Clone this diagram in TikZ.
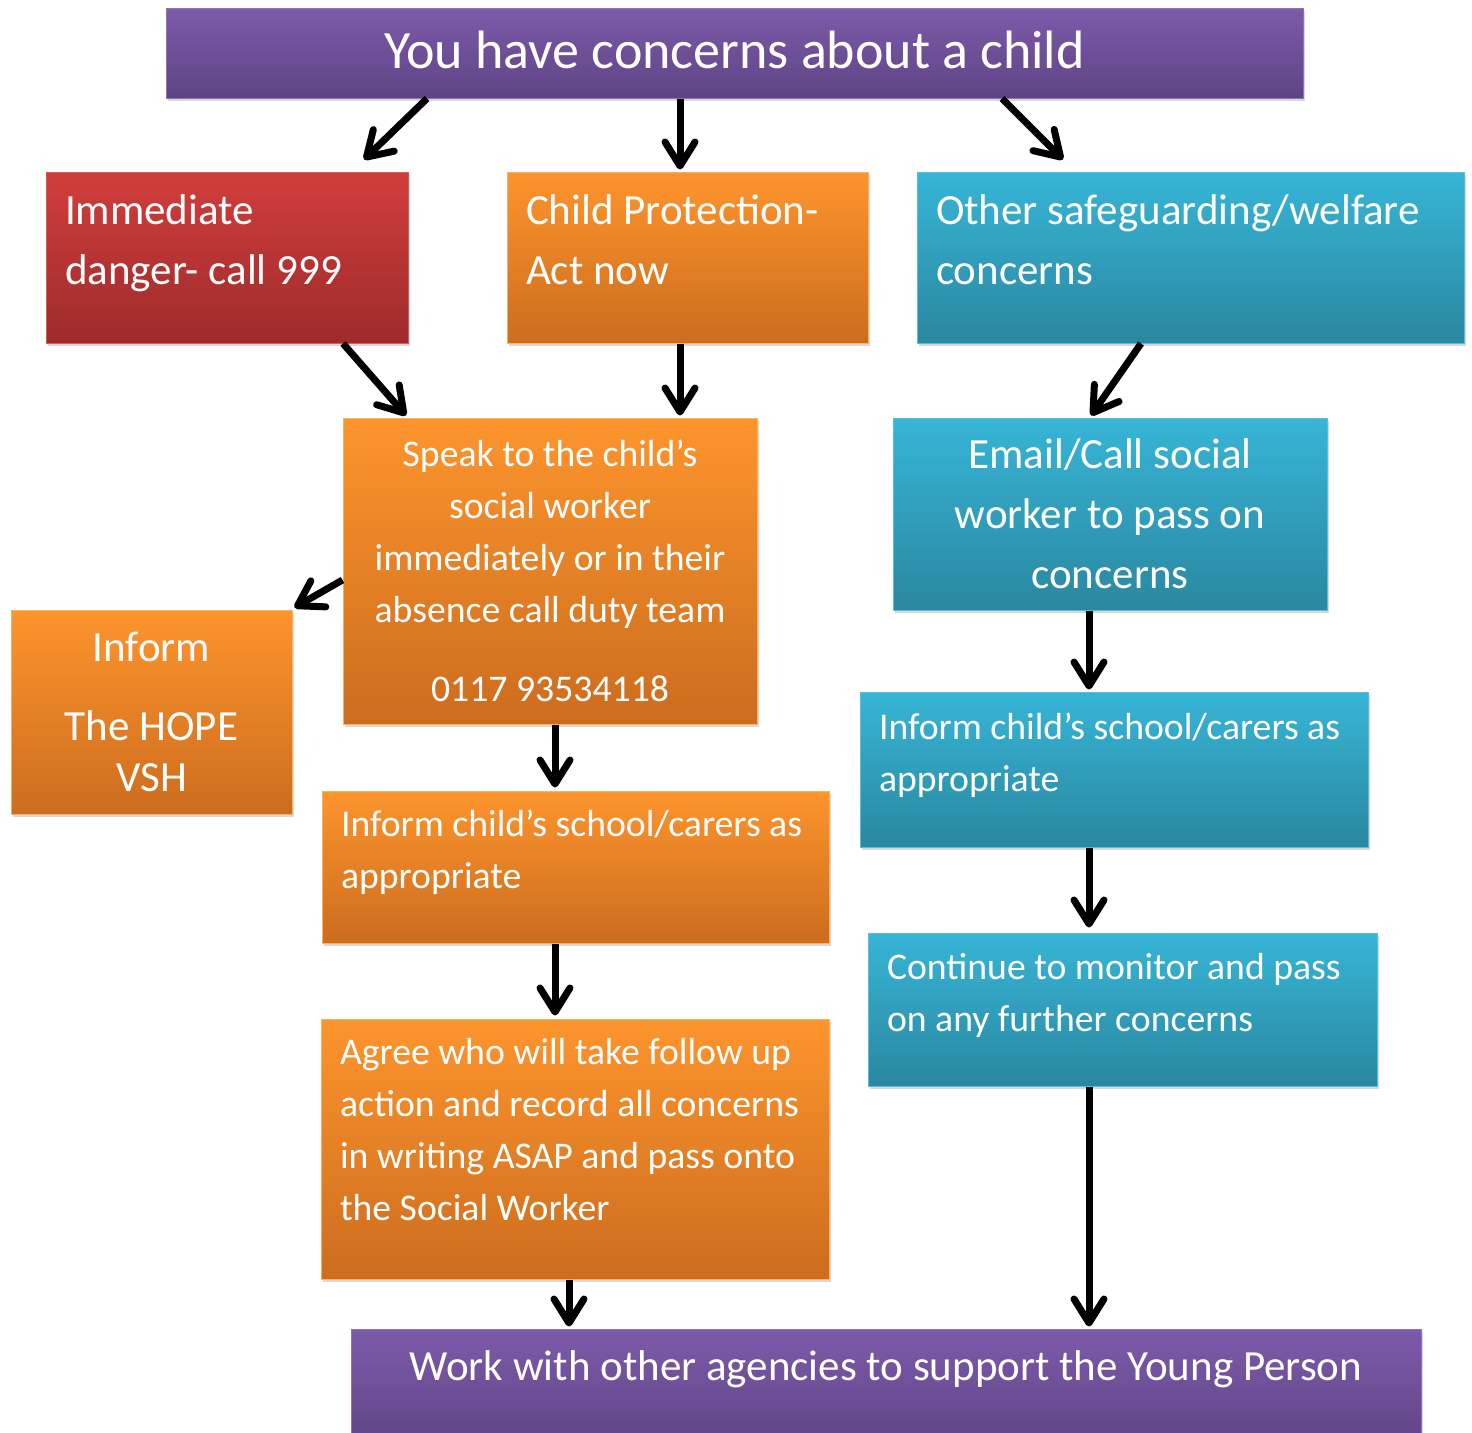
\documentclass[tikz,border=0pt]{standalone}
\usepackage{fontspec}
\setmainfont{Carlito}
\usetikzlibrary{arrows.meta, shadows}

\definecolor{plumtop}{HTML}{7D5AAA}
\definecolor{plumbot}{HTML}{5E4484}
\definecolor{redtop}{HTML}{D13E3C}
\definecolor{redbot}{HTML}{9E2A2B}
\definecolor{ambertop}{HTML}{FD952D}
\definecolor{amberbot}{HTML}{CC6C1E}
\definecolor{tealtop}{HTML}{37B5D7}
\definecolor{tealbot}{HTML}{2A879F}

% text block pinned to the top of a card: [align]{height}{width}{top gap}{lines}
\newcommand{\cardtext}[5][\raggedright\leftskip=19pt]{%
  \parbox[c][#2][t]{#3}{#1\vspace*{#4}\strut #5}}

\begin{document}
\begin{tikzpicture}[x=1pt, y=-1pt,
        card/.style={rectangle, inner sep=0pt, text=white, line width=1pt,
            drop shadow={shadow xshift=2pt, shadow yshift=-3pt, opacity=0.3}},
        plum/.style={card, draw=plumtop!85!white, top color=plumtop, bottom color=plumbot},
        redcard/.style={card, draw=redtop!85!white, top color=redtop, bottom color=redbot},
        ambercard/.style={card, draw=ambertop!75!white, top color=ambertop, bottom color=amberbot},
        tealcard/.style={card, draw=tealtop!85!white, top color=tealtop, bottom color=tealbot},
        big/.style={font=\fontsize{43}{60}\selectfont},
        small/.style={font=\fontsize{37.7}{52}\selectfont},
        flow/.style={line width=7pt, -{Straight Barb[length=24pt, width=30pt, round]}}
        ]
        \useasboundingbox (0,0) rectangle (1472,1432);
        \fill[white] (0,0) rectangle (1472,1432);

        % Nodes
        \node [plum, minimum width=1137pt, minimum height=90pt, text depth=7pt,
            font=\fontsize{54}{64}\selectfont] (title) at (734.5,53) {You have concerns about a child};

        \node [redcard, big] (danger) at (227,257.5) {\cardtext{171pt}{362pt}{10pt}{Immediate\\danger- call 999}};
        \node [ambercard, big] (protect) at (687.5,257.5) {\cardtext{171pt}{361pt}{10pt}{Child Protection-\\Act now}};
        \node [tealcard, big] (other) at (1190.5,257.5) {\cardtext{171pt}{547pt}{10pt}{Other safeguarding/welfare\\concerns}};

        \node [ambercard, small, align=center, minimum width=414pt, minimum height=306pt] (speak) at (550,571)
            {Speak to the child’s\\social worker\\immediately or in their\\absence call duty team\\[27pt]0117 93534118};
        \node [ambercard, font=\fontsize{43}{51}\selectfont, align=center, minimum width=281pt, minimum height=204pt] (hope) at (151.5,712)
            {Inform\\[28pt]The HOPE\\VSH};
        \node [tealcard, big, align=center, minimum width=434pt, minimum height=192pt] (email) at (1110,514)
            {Email/Call social\\worker to pass on\\concerns};

        \node [ambercard, small] (schoolA) at (575.5,867) {\cardtext{152pt}{507pt}{9pt}{Inform child’s school/carers as\\appropriate}};
        \node [ambercard, small] (agree) at (575,1149) {\cardtext{260pt}{508pt}{9pt}{Agree who will take follow up\\action and record all concerns\\in writing ASAP and pass onto\\the Social Worker}};
        \node [tealcard, small] (schoolB) at (1114,769.5) {\cardtext{155pt}{508pt}{11pt}{Inform child’s school/carers as\\appropriate}};
        \node [tealcard, small] (monitor) at (1122.5,1009.5) {\cardtext{153pt}{509pt}{10pt}{Continue to monitor and pass\\on any further concerns}};

        \node [plum, big] (agencies) at (886,1389.5) {\cardtext[\centering]{121pt}{1070pt}{9pt}{Work with other agencies to support the Young Person}};

        % Edges
        \draw[flow] ([xshift=-307.5pt]title.south) -- ([xshift=137pt, yshift=12pt]danger.north);
        \draw[flow] ([xshift=-54.5pt]title.south) -- ([xshift=-7.5pt, yshift=2pt]protect.north);
        \draw[flow] ([xshift=267.5pt]title.south) -- ([xshift=-127.5pt, yshift=12pt]other.north);

        \draw[flow] ([xshift=116pt]danger.south) -- ([xshift=-144pt, yshift=2pt]speak.north);
        \draw[flow] ([xshift=-7.5pt]protect.south) -- ([xshift=130pt, yshift=2pt]speak.north);
        \draw[flow] ([xshift=-49.5pt]other.south) -- ([xshift=-19pt, yshift=2pt]email.north);

        \draw[flow] ([yshift=-9pt]speak.west) -- ([xshift=2pt, yshift=2pt]hope.north east);
        \draw[flow] ([xshift=5pt]speak.south) -- ([xshift=-20.5pt, yshift=3pt]schoolA.north);
        \draw[flow] ([xshift=-20.5pt]schoolA.south) -- ([xshift=-20pt, yshift=3pt]agree.north);
        \draw[flow] ([xshift=-6pt]agree.south) -- ([xshift=-317pt, yshift=2pt]agencies.north);

        \draw[flow] ([xshift=-21pt]email.south) -- ([xshift=-25pt, yshift=2pt]schoolB.north);
        \draw[flow] ([xshift=-25pt]schoolB.south) -- ([xshift=-33.5pt, yshift=5pt]monitor.north);
        \draw[flow] ([xshift=-33.5pt]monitor.south) -- ([xshift=203pt, yshift=2pt]agencies.north);
    \end{tikzpicture}
\end{document}
